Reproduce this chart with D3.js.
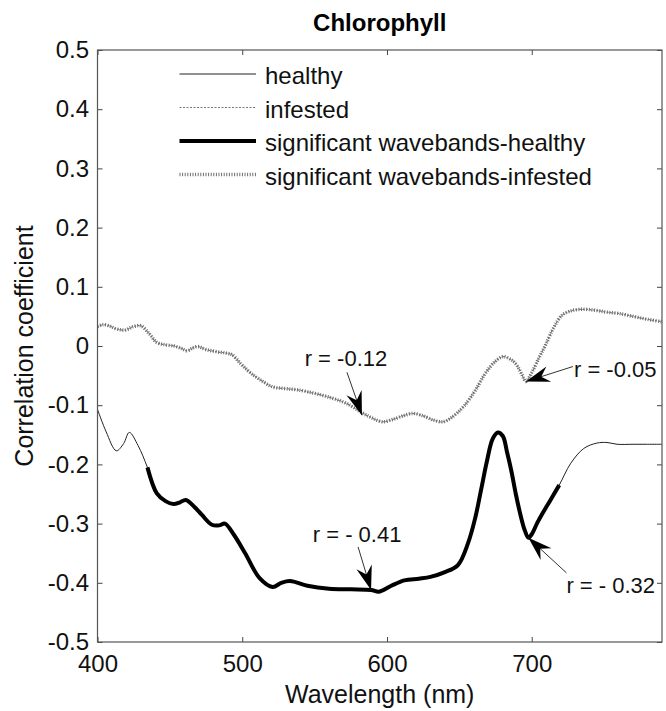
<!DOCTYPE html>
<html>
<head>
<meta charset="utf-8">
<script src="https://cdn.jsdelivr.net/npm/d3@7/dist/d3.min.js"></script>
<style>
  body { margin: 0; background: #fff; }
  svg { display: block; font-family: "Liberation Sans", Arial, Helvetica, sans-serif; }
</style>
</head>
<body>
<svg id="chart"></svg>
<script>
// chart values
const healthyNm = [400, 406, 413, 418, 422, 428, 434.5, 441, 447, 452.5, 457, 461, 467, 472, 479, 484, 488, 494, 502, 512,
  521, 527, 533, 545, 560, 575, 589, 594.5, 603, 612, 622, 630, 640, 649, 656, 661, 665, 669, 673, 676.5,
  680, 683, 686, 689, 692, 695, 697.7, 700, 704, 707.4, 713, 719, 727, 736, 745, 752, 759, 770, 780, 790];
const healthyR = [-0.107, -0.145, -0.177, -0.165, -0.146, -0.168, -0.205, -0.249, -0.262, -0.267, -0.264, -0.260, -0.272, -0.285, -0.302, -0.303, -0.300, -0.318, -0.350, -0.392,
  -0.407, -0.400, -0.397, -0.405, -0.410, -0.411, -0.412, -0.415, -0.405, -0.396, -0.393, -0.390, -0.382, -0.370, -0.333, -0.290, -0.243, -0.195, -0.157, -0.146,
  -0.152, -0.180, -0.212, -0.250, -0.283, -0.310, -0.324, -0.318, -0.298, -0.283, -0.260, -0.235, -0.198, -0.173, -0.164, -0.163, -0.166, -0.166, -0.166, -0.166];

const infestedNm = [400, 404, 408, 413, 419, 425, 430, 436, 441, 447, 453, 458, 462, 466, 469.5, 475, 483, 489, 493, 499,
  506, 513, 521, 530, 538, 550, 562, 572, 583, 590, 597, 604, 611, 618, 625, 632, 638.6, 645, 653, 661,
  668, 674, 680, 685, 689, 693, 696, 700, 705, 709, 715, 721, 728, 736, 745, 752, 760, 770, 780, 790];
const infestedR = [0.033, 0.036, 0.034, 0.029, 0.027, 0.033, 0.034, 0.020, 0.006, 0.002, 0.000, -0.004, -0.008, -0.003, -0.001, -0.006, -0.010, -0.012, -0.015, -0.030,
  -0.046, -0.058, -0.069, -0.072, -0.074, -0.080, -0.088, -0.097, -0.113, -0.122, -0.128, -0.124, -0.118, -0.114, -0.118, -0.125, -0.128, -0.120, -0.102, -0.075,
  -0.046, -0.028, -0.018, -0.022, -0.030, -0.047, -0.060, -0.045, -0.020, -0.001, 0.030, 0.052, 0.060, 0.062, 0.060, 0.057, 0.055, 0.050, 0.045, 0.041];

// significant waveband ranges (nm)
const sigHealthy = [434.5, 719];
const sigInfested = [400, 790];

const xTicks = [400, 500, 600, 700];
const yTicks = [-0.5, -0.4, -0.3, -0.2, -0.1, 0, 0.1, 0.2, 0.3, 0.4, 0.5];
const yTickLabels = ["-0.5", "-0.4", "-0.3", "-0.2", "-0.1", "0", "0.1", "0.2", "0.3", "0.4", "0.5"];

const legendLabels = ["healthy", "infested", "significant wavebands-healthy", "significant wavebands-infested"];

const annotLabels = ["r = -0.12", "r = -0.05", "r = - 0.41", "r = - 0.32"];
const annotNm = [582.7, 696, 589, 697.7];
const annotR = [-0.117, -0.060, -0.412, -0.324];

// layout
const W = 666, H = 711;
const margin = { top: 50, right: 4, bottom: 69, left: 97.5 };
const font = 24;

const svg = d3.select("#chart").attr("width", W).attr("height", H);

const x = d3.scaleLinear().domain([400, 790]).range([margin.left, W - margin.right]);
const y = d3.scaleLinear().domain([-0.5, 0.5]).range([H - margin.bottom, margin.top]);

// line styles
const styles = [
  { stroke: "#222", width: 1, dash: null },
  { stroke: "#777", width: 1.2, dash: "2,1.5" },
  { stroke: "#000", width: 4, dash: null },
  { stroke: "#6e6e6e", width: 3.5, dash: "1,1.6" }
];

const line = d3.line()
  .x(d => x(d[0]))
  .y(d => y(d[1]))
  .curve(d3.curveCatmullRom);

const healthy = healthyNm.map((n, i) => [n, healthyR[i]]);
const infested = infestedNm.map((n, i) => [n, infestedR[i]]);

function drawLine(data, s) {
  const p = svg.append("path")
    .datum(data)
    .attr("fill", "none")
    .attr("stroke", s.stroke)
    .attr("stroke-width", s.width)
    .attr("stroke-linejoin", "round")
    .attr("d", line);
  if (s.dash) p.attr("stroke-dasharray", s.dash);
}

drawLine(healthy, styles[0]);
drawLine(infested, styles[1]);
drawLine(healthy.filter(d => d[0] >= sigHealthy[0] && d[0] <= sigHealthy[1]), styles[2]);
drawLine(infested.filter(d => d[0] >= sigInfested[0] && d[0] <= sigInfested[1]), styles[3]);

// axes with inward ticks on all four sides
const tickLen = 5;
const gLeft = svg.append("g").attr("transform", `translate(${margin.left},0)`)
  .call(d3.axisLeft(y).tickValues(yTicks).tickFormat((d, i) => yTickLabels[i])
    .tickSizeInner(-tickLen).tickSizeOuter(0).tickPadding(8.5));
const gBottom = svg.append("g").attr("transform", `translate(0,${H - margin.bottom})`)
  .call(d3.axisBottom(x).tickValues(xTicks).tickFormat(d3.format("d"))
    .tickSizeInner(-tickLen).tickSizeOuter(0).tickPadding(13));
const gRight = svg.append("g").attr("transform", `translate(${W - margin.right},0)`)
  .call(d3.axisRight(y).tickValues(yTicks).tickFormat("").tickSizeInner(-tickLen).tickSizeOuter(0));
const gTop = svg.append("g").attr("transform", `translate(0,${margin.top})`)
  .call(d3.axisTop(x).tickValues(xTicks).tickFormat("").tickSizeInner(-tickLen).tickSizeOuter(0));

[gLeft, gBottom, gRight, gTop].forEach(g => {
  g.select(".domain").remove();
  g.selectAll("line").attr("stroke", "#444");
  g.selectAll("text").attr("font-size", font).attr("fill", "#111").attr("font-family", null);
});

// frame
svg.append("rect")
  .attr("x", margin.left).attr("y", margin.top)
  .attr("width", W - margin.left - margin.right)
  .attr("height", H - margin.top - margin.bottom)
  .attr("fill", "none").attr("stroke", "#555").attr("stroke-width", 1.2);

// title and axis titles
svg.append("text")
  .attr("x", (margin.left + W - margin.right) / 2).attr("y", 31)
  .attr("text-anchor", "middle").attr("font-size", font).attr("font-weight", "bold")
  .text("Chlorophyll");

svg.append("text")
  .attr("x", (margin.left + W - margin.right) / 2).attr("y", 703)
  .attr("text-anchor", "middle").attr("font-size", font + 1).attr("fill", "#111")
  .text("Wavelength (nm)");

svg.append("text")
  .attr("transform", `translate(33,${(margin.top + H - margin.bottom) / 2}) rotate(-90)`)
  .attr("text-anchor", "middle").attr("font-size", font + 1).attr("fill", "#111")
  .text("Correlation coefficient");

// legend
const legend = svg.append("g");
legendLabels.forEach((label, i) => {
  const ly = 74 + i * 33.5;
  const s = styles[i];
  const l = legend.append("line")
    .attr("x1", 179.5).attr("x2", 256).attr("y1", ly).attr("y2", ly)
    .attr("stroke", s.stroke).attr("stroke-width", s.width);
  if (s.dash) l.attr("stroke-dasharray", s.dash);
  legend.append("text")
    .attr("x", 265).attr("y", ly + 10)
    .attr("font-size", font).attr("fill", "#111")
    .text(label);
});

// annotations: text offset and arrow start relative to the arrow tip
const annotLayout = [
  { tx: -16, ty: -49, anchor: "middle", lx: -15, ly: -43 },
  { tx: 48, ty: -5, anchor: "start", lx: 47, ly: -15 },
  { tx: -14, ty: -48, anchor: "middle", lx: -13, ly: -43 },
  { tx: 38, ty: 55, anchor: "start", lx: 38, ly: 35 }
];

function arrowHead(tipX, tipY, fromX, fromY) {
  const ang = Math.atan2(tipY - fromY, tipX - fromX);
  const L = 24, hw = 8, notch = 16;
  const pt = (a, b) => [tipX + a * Math.cos(ang) - b * Math.sin(ang), tipY + a * Math.sin(ang) + b * Math.cos(ang)];
  return [pt(0, 0), pt(-L, -hw), pt(-notch, 0), pt(-L, hw)];
}

annotLabels.forEach((label, i) => {
  const tx = x(annotNm[i]), ty = y(annotR[i]);
  const o = annotLayout[i];
  const fx = tx + o.lx, fy = ty + o.ly;
  svg.append("line")
    .attr("x1", fx).attr("y1", fy).attr("x2", tx).attr("y2", ty)
    .attr("stroke", "#333").attr("stroke-width", 1);
  svg.append("path")
    .attr("d", "M" + arrowHead(tx, ty, fx, fy).join("L") + "Z")
    .attr("fill", "#000");
  svg.append("text")
    .attr("x", tx + o.tx).attr("y", ty + o.ty)
    .attr("text-anchor", o.anchor)
    .attr("font-size", 22).attr("fill", "#111")
    .text(label);
});
</script>
</body>
</html>
